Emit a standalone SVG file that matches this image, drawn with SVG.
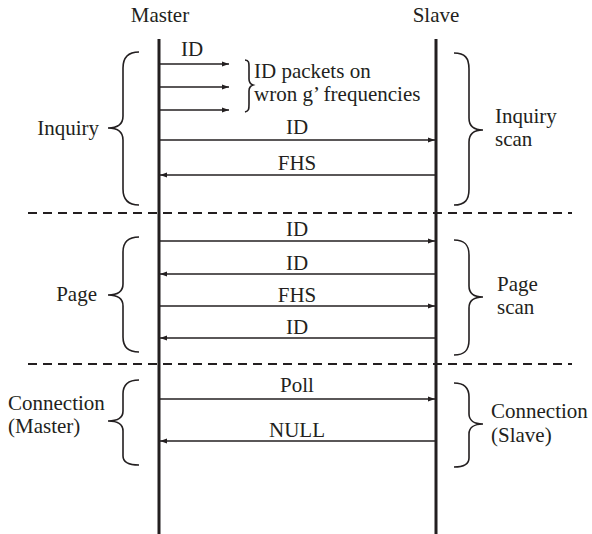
<svg xmlns="http://www.w3.org/2000/svg" width="592" height="534" viewBox="0 0 592 534">
<style>
text { font-family: "Liberation Serif", "Times New Roman", serif; font-size: 21px; fill: #231f20; }
.mid { text-anchor: middle; }
.end { text-anchor: end; }
.life { stroke: #231f20; stroke-width: 3; fill: none; }
.msg { stroke: #231f20; stroke-width: 1.6; fill: none; }
.brace { stroke: #231f20; stroke-width: 1.6; fill: none; }
.dash { stroke: #231f20; stroke-width: 2; stroke-dasharray: 9 6; fill: none; }
</style>
<defs>
<marker id="ah" markerWidth="8" markerHeight="6" refX="7" refY="3" orient="auto" markerUnits="userSpaceOnUse">
<path d="M0,0.5 L7,3 L0,5.5 Z" fill="#231f20"/>
</marker>
</defs>
<g id="master">
<text class="mid" x="160" y="22">Master</text>
<line class="life" x1="159" y1="39" x2="159" y2="534"/>
</g>
<g id="slave">
<text class="mid" x="436" y="22">Slave</text>
<line class="life" x1="436" y1="39" x2="436" y2="534"/>
</g>
<g id="separators">
<line class="dash" x1="28" y1="213" x2="572" y2="213"/>
<line class="dash" x1="28" y1="364" x2="572" y2="364"/>
</g>
<g id="inquiry">
<path class="brace" d="M139,52 C128,52 123,57 123,68 L123,116 C123,124 118,128 108,128 C118,128 123,132 123,140 L123,189 C123,200 128,205 139,205"/>
<text class="end" x="99" y="135">Inquiry</text>
</g>
<g id="inquiry-scan">
<path class="brace" d="M454,53 C465,53 469,58 469,69 L469,118 C469,126 474,130 483,130 C474,130 469,134 469,142 L469,189 C469,200 465,205 454,205"/>
<text x="495" y="123">Inquiry</text>
<text x="495" y="146">scan</text>
</g>
<g id="page">
<path class="brace" d="M139,237 C128,237 123,242 123,252 L123,284 C123,291 118,295 108,295 C118,295 123,299 123,306 L123,337 C123,347 128,352 139,352"/>
<text class="end" x="97" y="301">Page</text>
</g>
<g id="page-scan">
<path class="brace" d="M454,240 C465,240 469,245 469,255 L469,286 C469,293 474,297 483,297 C474,297 469,301 469,308 L469,340 C469,350 465,355 454,355"/>
<text x="497" y="291">Page</text>
<text x="497" y="314">scan</text>
</g>
<g id="connection-master">
<path class="brace" d="M139,380 C128,380 123,385 123,394 L123,411 C123,417 118,421 108,421 C118,421 123,425 123,431 L123,456 C123,462 128,465 139,465"/>
<text x="8" y="410">Connection</text>
<text x="8" y="433">(Master)</text>
</g>
<g id="connection-slave">
<path class="brace" d="M454,383 C465,383 469,388 469,397 L469,414 C469,420 474,424 483,424 C474,424 469,428 469,434 L469,458 C469,464 465,467 454,467"/>
<text x="491" y="418">Connection</text>
<text x="491" y="442">(Slave)</text>
</g>
<g id="wrong-frequencies">
<path class="brace" d="M245,60 C249,60 249,63 249,67 L249,79 C249,82 250,84 253,85 C250,86 249,88 249,91 L249,104 C249,109 249,111 245,112"/>
<text x="254" y="78">ID packets on</text>
<text x="254" y="101">wron g’ frequencies</text>
</g>
<g id="connectors">
<line class="msg" x1="160" y1="64" x2="229" y2="64" marker-end="url(#ah)"/>
<line class="msg" x1="160" y1="87" x2="229" y2="87" marker-end="url(#ah)"/>
<line class="msg" x1="160" y1="110" x2="229" y2="110" marker-end="url(#ah)"/>
<text class="mid" x="192" y="56">ID</text>
<line class="msg" x1="160" y1="140" x2="435" y2="140" marker-end="url(#ah)"/>
<text class="mid" x="297" y="134">ID</text>
<line class="msg" x1="435" y1="175" x2="160" y2="175" marker-end="url(#ah)"/>
<text class="mid" x="297" y="170">FHS</text>
<line class="msg" x1="160" y1="241" x2="435" y2="241" marker-end="url(#ah)"/>
<text class="mid" x="297" y="236">ID</text>
<line class="msg" x1="435" y1="274" x2="160" y2="274" marker-end="url(#ah)"/>
<text class="mid" x="297" y="270">ID</text>
<line class="msg" x1="160" y1="306" x2="435" y2="306" marker-end="url(#ah)"/>
<text class="mid" x="297" y="302">FHS</text>
<line class="msg" x1="435" y1="338" x2="160" y2="338" marker-end="url(#ah)"/>
<text class="mid" x="297" y="334">ID</text>
<line class="msg" x1="160" y1="399" x2="435" y2="399" marker-end="url(#ah)"/>
<text class="mid" x="297" y="392">Poll</text>
<line class="msg" x1="435" y1="441" x2="160" y2="441" marker-end="url(#ah)"/>
<text class="mid" x="297" y="437">NULL</text>
</g>
</svg>
